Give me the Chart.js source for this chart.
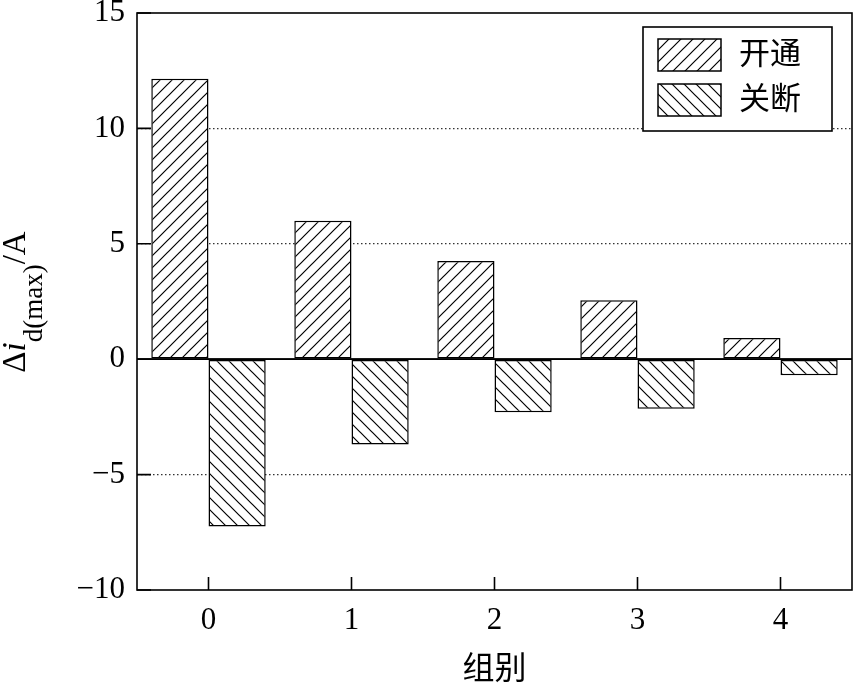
<!DOCTYPE html>
<html>
<head>
<meta charset="utf-8">
<script src="https://cdn.jsdelivr.net/npm/chart.js@4.4.1/dist/chart.umd.min.js"></script>
<style>
  html, body { margin: 0; padding: 0; background: #fff; }
  #wrap { width: 853px; height: 685px; }
</style>
</head>
<body>
<div id="wrap"><canvas id="barChart"></canvas></div>
<script>
// data
const groups = ["0", "1", "2", "3", "4"];
const turnOn = [12.15, 6.0, 4.25, 2.55, 0.92];
const turnOff = [-7.25, -3.7, -2.3, -2.15, -0.7];
const seriesNames = ["开通", "关断"];
const yTicks = [-10, -5, 0, 5, 10, 15];

const serif = "'Liberation Serif', 'Noto Sans CJK SC', serif";
const ctx = document.getElementById("barChart").getContext("2d");

// diagonal hatch fill, dir 1 = "/", dir -1 = "\"
function hatch(dir) {
    const s = 12;
    const c = document.createElement("canvas");
    c.width = s; c.height = s;
    const g = c.getContext("2d");
    g.fillStyle = "#fff";
    g.fillRect(0, 0, s, s);
    g.strokeStyle = "#000";
    g.lineWidth = 1.2;
    g.beginPath();
    if (dir > 0) {
        g.moveTo(-1, s + 1); g.lineTo(s + 1, -1);
        g.moveTo(-1, 1); g.lineTo(1, -1);
        g.moveTo(s - 1, s + 1); g.lineTo(s + 1, s - 1);
    } else {
        g.moveTo(-1, -1); g.lineTo(s + 1, s + 1);
        g.moveTo(s - 1, -1); g.lineTo(s + 1, 1);
        g.moveTo(-1, s - 1); g.lineTo(1, s + 1);
    }
    g.stroke();
    return ctx.createPattern(c, "repeat");
}

// frame, inward ticks, y title with subscript, boxed legend
const extras = {
    id: "extras",
    afterDatasetsDraw(chart) {
        const c = chart.ctx;
        const a = chart.chartArea;
        const x = chart.scales.x, y = chart.scales.y;
        c.save();
        c.strokeStyle = "#000";
        c.lineWidth = 1.6;
        // zero line
        const y0 = y.getPixelForValue(0);
        c.beginPath(); c.moveTo(a.left, y0); c.lineTo(a.right, y0); c.stroke();
        // frame
        c.strokeRect(a.left, a.top, a.right - a.left, a.bottom - a.top);
        // ticks
        c.beginPath();
        yTicks.forEach(v => {
            const p = y.getPixelForValue(v);
            c.moveTo(a.left, p); c.lineTo(a.left + 14, p);
        });
        groups.forEach((g, i) => {
            const p = x.getPixelForValue(i);
            c.moveTo(p, a.bottom); c.lineTo(p, a.bottom - 13);
        });
        c.stroke();

        // legend
        const bw = 189, bh = 104;
        const bx = a.right - 20 - bw, by = a.top + 14;
        c.fillStyle = "#fff";
        c.fillRect(bx, by, bw, bh);
        c.lineWidth = 1.6;
        c.strokeRect(bx, by, bw, bh);
        chart.data.datasets.forEach((ds, i) => {
            const sy = by + 12 + i * 45;
            c.fillStyle = ds.backgroundColor;
            c.fillRect(bx + 15, sy, 63, 32);
            c.lineWidth = 1.5;
            c.strokeRect(bx + 15, sy, 63, 32);
            c.fillStyle = "#000";
            c.font = "31px " + serif;
            c.textBaseline = "middle";
            c.textAlign = "left";
            c.fillText(ds.label, bx + 96, sy + 17);
        });

        // y title: Δi_d(max)/A
        c.translate(25, 302);
        c.rotate(-Math.PI / 2);
        c.fillStyle = "#000";
        c.textBaseline = "alphabetic";
        c.textAlign = "left";
        const parts = [
            { t: "Δ", f: "33px " + serif, dy: 0 },
            { t: "i", f: "italic 33px " + serif, dy: 0 },
            { t: "d(max)", f: "27px " + serif, dy: 17 },
            { t: "/A", f: "33px " + serif, dy: 0 }
        ];
        let w = 0;
        parts.forEach(p => { c.font = p.f; p.w = c.measureText(p.t).width; w += p.w; });
        let cx = -w / 2;
        parts.forEach(p => {
            c.font = p.f;
            c.fillText(p.t, cx, p.dy);
            cx += p.w;
        });
        c.restore();
    }
};

new Chart(ctx, {
    type: "bar",
    data: {
        labels: groups,
        datasets: [
            {
                label: seriesNames[0],
                data: turnOn,
                backgroundColor: hatch(1),
                borderColor: "#000",
                borderWidth: 1.5,
                borderSkipped: false
            },
            {
                label: seriesNames[1],
                data: turnOff,
                backgroundColor: hatch(-1),
                borderColor: "#000",
                borderWidth: 1.5,
                borderSkipped: false
            }
        ]
    },
    options: {
        responsive: true,
        maintainAspectRatio: false,
        animation: false,
        layout: { padding: { top: 13, right: 1, left: 0, bottom: 0 } },
        plugins: {
            legend: { display: false },
            tooltip: { enabled: false }
        },
        datasets: {
            bar: { categoryPercentage: 0.8, barPercentage: 1.0 }
        },
        scales: {
            x: {
                grid: { display: false, drawTicks: false },
                border: { display: false },
                ticks: {
                    color: "#000",
                    font: { family: serif, size: 31 },
                    padding: 12
                },
                title: {
                    display: true,
                    text: "组别",
                    color: "#000",
                    font: { family: serif, size: 32 },
                    padding: { top: 0, bottom: -5 }
                },
                afterFit(s) { s.height = 95; }
            },
            y: {
                min: -10,
                max: 15,
                afterBuildTicks(s) { s.ticks = yTicks.map(v => ({ value: v })); },
                grid: {
                    drawTicks: false,
                    color: c => (c.tick && (c.tick.value === 15 || c.tick.value === -10)) ? "rgba(0,0,0,0)" : "#333",
                    lineWidth: c => (c.tick && c.tick.value === 0) ? 1.6 : 1.2
                },
                border: {
                    display: false,
                    dash: c => (c.tick && c.tick.value === 0) ? [] : [1.5, 2.5]
                },
                ticks: {
                    color: "#000",
                    font: { family: serif, size: 31 },
                    padding: 12,
                    callback: v => String(v).replace("-", "\u2212")
                },
                afterFit(s) {
                    s.width = 137;
                    s.paddingTop = 0;
                    s.paddingBottom = 0;
                }
            }
        }
    },
    plugins: [extras]
});
</script>
</body>
</html>
